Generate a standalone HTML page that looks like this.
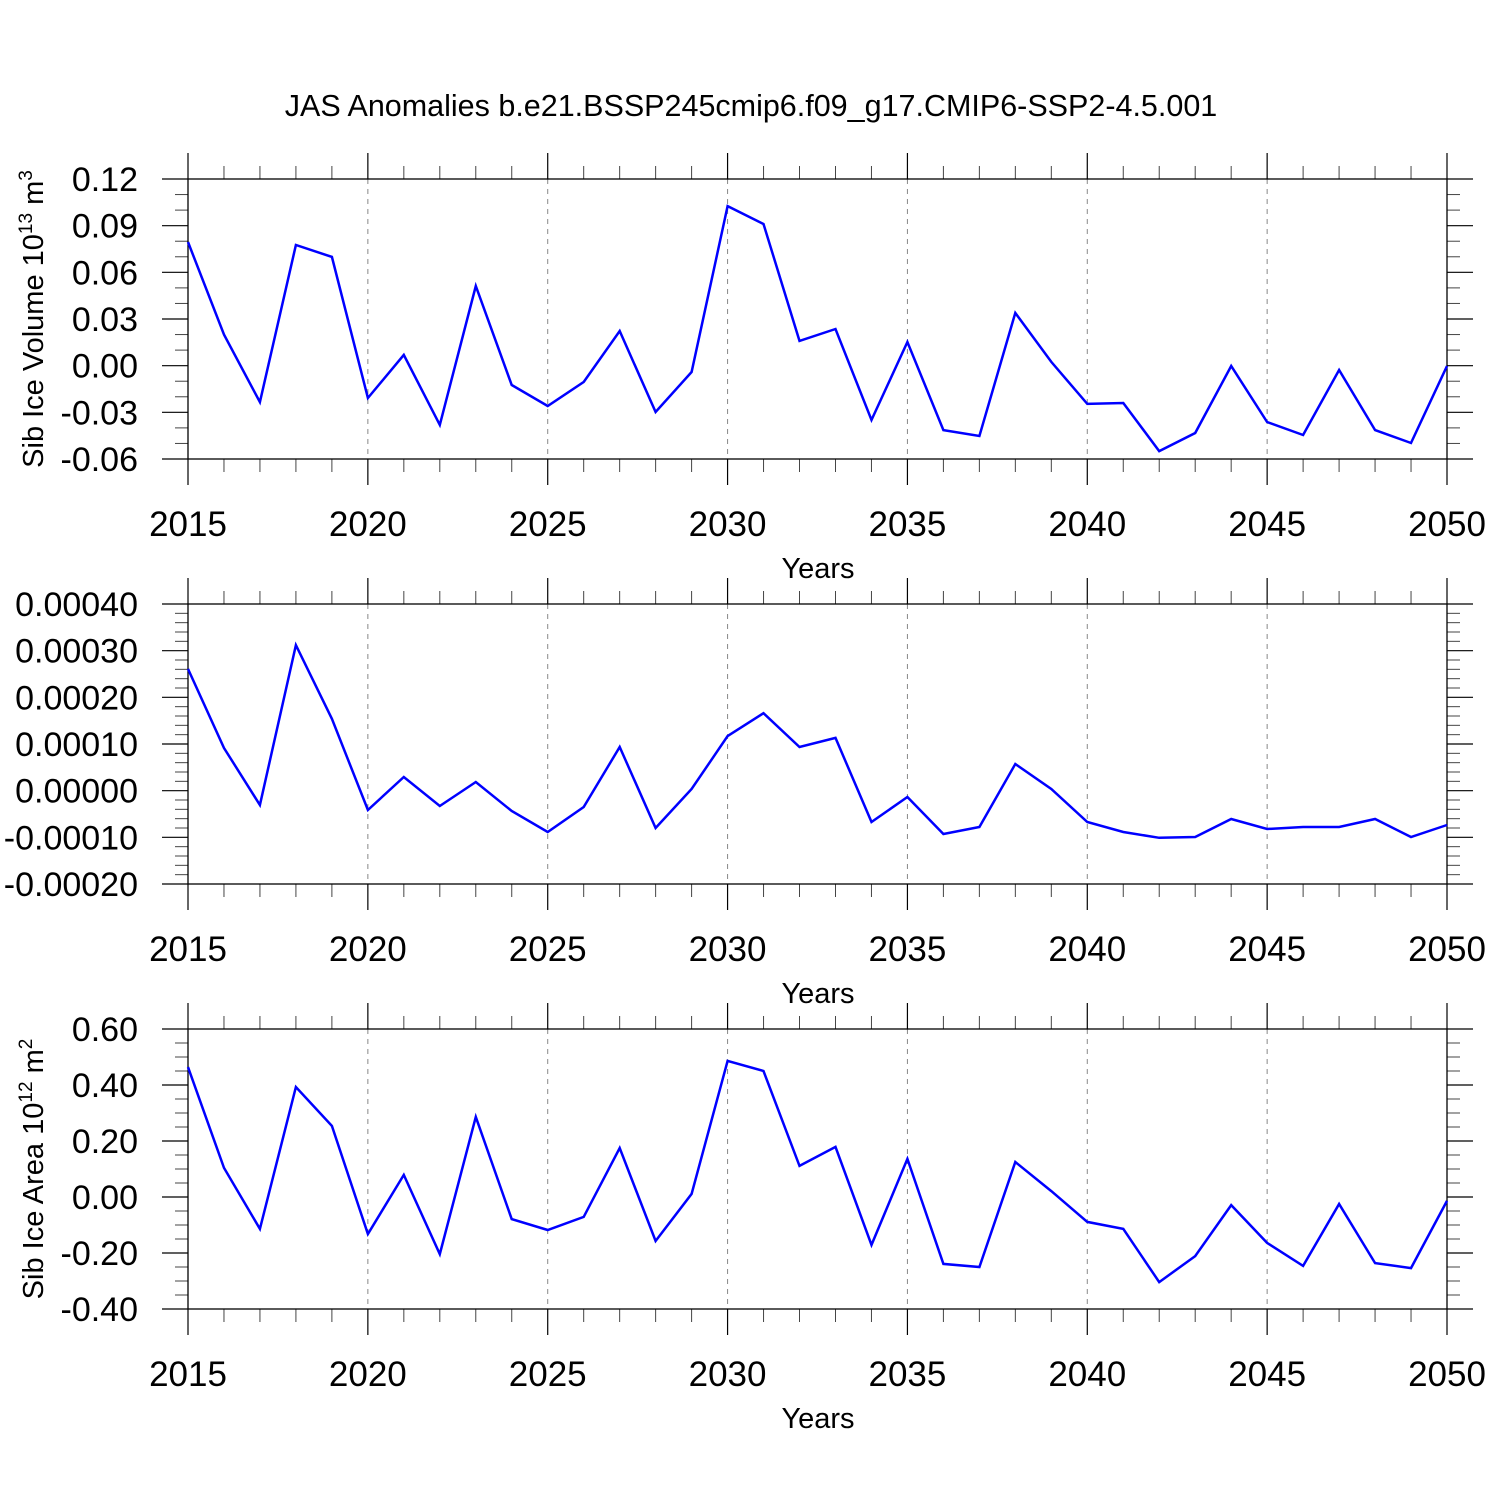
<!DOCTYPE html>
<html><head><meta charset="utf-8"><style>
html,body{margin:0;padding:0;background:#fff;}
svg{display:block;font-family:"Liberation Sans",Arial,sans-serif;}
</style></head><body>
<svg id="chart" width="1500" height="1500" viewBox="0 0 1500 1500">
<text x="751" y="116" font-size="30.5" text-anchor="middle">JAS Anomalies b.e21.BSSP245cmip6.f09_g17.CMIP6-SSP2-4.5.001</text>
</svg>
<script>
const years = [];
for (let y = 2015; y <= 2050; y++) years.push(y);
const volumeValues = [0.0795,0.020,-0.0234,0.0776,0.0699,-0.0208,0.0069,-0.0381,0.0512,-0.0124,-0.0259,-0.0105,0.0223,-0.0298,-0.0041,0.1026,0.0911,0.0159,0.0236,-0.0349,0.0152,-0.0414,-0.0452,0.0339,0.0024,-0.0246,-0.024,-0.0549,-0.0433,-0.0002,-0.0362,-0.0446,-0.0028,-0.0414,-0.0497,-0.0002];
const thicknessValues = [0.000261,0.0000914,-0.0000307,0.000312,0.000154,-0.0000414,0.0000293,-0.0000329,0.0000186,-0.0000436,-0.0000886,-0.000035,0.0000936,-0.00008,0.0000036,0.000117,0.000166,0.0000936,0.000113,-0.0000671,-0.0000136,-0.0000929,-0.0000779,0.0000571,0.0000036,-0.0000671,-0.0000886,-0.000101,-0.0000993,-0.0000607,-0.0000821,-0.0000779,-0.0000779,-0.0000607,-0.0000993,-0.0000736];
const areaValues = [0.464,0.104,-0.114,0.393,0.254,-0.132,0.079,-0.204,0.286,-0.079,-0.118,-0.071,0.175,-0.157,0.011,0.486,0.45,0.111,0.179,-0.171,0.136,-0.239,-0.25,0.125,0.021,-0.089,-0.114,-0.304,-0.211,-0.029,-0.164,-0.246,-0.025,-0.236,-0.254,-0.014];
const xTickLabels = ["2015","2020","2025","2030","2035","2040","2045","2050"];
const volumeTicks = ["0.12","0.09","0.06","0.03","0.00","-0.03","-0.06"];
const thicknessTicks = ["0.00040","0.00030","0.00020","0.00010","0.00000","-0.00010","-0.00020"];
const areaTicks = ["0.60","0.40","0.20","0.00","-0.20","-0.40"];

const NS = "http://www.w3.org/2000/svg";
const svg = document.getElementById('chart');
function mk(tag, attrs, parent) {
  const e = document.createElementNS(NS, tag);
  for (const k in attrs) e.setAttribute(k, attrs[k]);
  (parent || svg).appendChild(e);
  return e;
}
const X0 = 188, X1 = 1447;
function xScale(yr) { return X0 + (yr - 2015) / 35 * (X1 - X0); }

function panel(name, top, ticks, minorPer, values, titleParts) {
  const bot = top + 280;
  const vmax = parseFloat(ticks[0]), vmin = parseFloat(ticks[ticks.length - 1]);
  const yScale = v => top + (vmax - v) / (vmax - vmin) * 280;
  const g = mk('g', {});
  
  
  for (let yr = 2020; yr < 2050; yr += 5) {
    const l = mk('line', {x1: xScale(yr), x2: xScale(yr), y1: top, y2: bot, stroke: '#888', 'stroke-width': 1, 'stroke-dasharray': '5,5'}, g);
    
    
  }
  for (const yr of years) {
    const x = xScale(yr);
    const major = (yr - 2015) % 5 === 0;
    const len = major ? 26 : 13;
    mk('line', {x1: x, x2: x, y1: top - len, y2: top, stroke: major ? '#000' : '#444', 'stroke-width': major ? 1.2 : 1}, g);
    mk('line', {x1: x, x2: x, y1: bot, y2: bot + len, stroke: major ? '#000' : '#444', 'stroke-width': major ? 1.2 : 1}, g);
  }
  xTickLabels.forEach(t => {
    const tx = mk('text', {x: xScale(+t), y: bot + 77, 'font-size': 35, 'text-anchor': 'middle'}, g);
    
    
    tx.textContent = t;
  });
  const n = ticks.length - 1;
  const step = (vmax - vmin) / n;
  for (let i = 0; i <= n * minorPer; i++) {
    const v = vmax - i * step / minorPer;
    const y = yScale(v);
    const major = i % minorPer === 0;
    const len = major ? 26 : 13;
    mk('line', {x1: X0 - len, x2: X0, y1: y, y2: y, stroke: major ? '#000' : '#444', 'stroke-width': major ? 1.2 : 1}, g);
    mk('line', {x1: X1, x2: X1 + len, y1: y, y2: y, stroke: major ? '#000' : '#444', 'stroke-width': major ? 1.2 : 1}, g);
  }
  ticks.forEach(t => {
    const tx = mk('text', {x: 138, y: yScale(parseFloat(t)) + 12, 'font-size': 34, 'text-anchor': 'end'}, g);
    
    
    tx.textContent = t;
  });
  mk('rect', {x: X0, y: top, width: X1 - X0, height: 280, fill: 'none', stroke: '#000', 'stroke-width': 1.3}, g);
  const pts = values.map((v, i) => xScale(years[i]).toFixed(1) + ',' + yScale(v).toFixed(1)).join(' ');
  const pl = mk('polyline', {points: pts, fill: 'none', stroke: '#0000ff', 'stroke-width': 2.5, 'stroke-linejoin': 'miter'}, g);
  
  
  const xt = mk('text', {x: 818, y: bot + 119, 'font-size': 29, 'text-anchor': 'middle'}, g);
  
  
  xt.textContent = 'Years';
  if (titleParts) {
    const cy = (top + bot) / 2;
    const yt = mk('text', {x: 0, y: 0, 'font-size': 29, 'text-anchor': 'middle', transform: 'translate(43,' + cy + ') rotate(-90)'}, g);
    
    
    const a = mk('tspan', {}, yt); a.textContent = titleParts[0];
    const b = mk('tspan', {dy: -11, 'font-size': 19}, yt); b.textContent = titleParts[1];
    const c = mk('tspan', {dy: 11}, yt); c.textContent = ' m';
    const d = mk('tspan', {dy: -11, 'font-size': 19}, yt); d.textContent = titleParts[2];
  }
}
panel('volume', 179, volumeTicks, 3, volumeValues, ['Sib Ice Volume 10', '13', '3']);
panel('thickness', 604, thicknessTicks, 5, thicknessValues, null);
panel('area', 1029, areaTicks, 4, areaValues, ['Sib Ice Area 10', '12', '2']);
</script>
</body></html>
